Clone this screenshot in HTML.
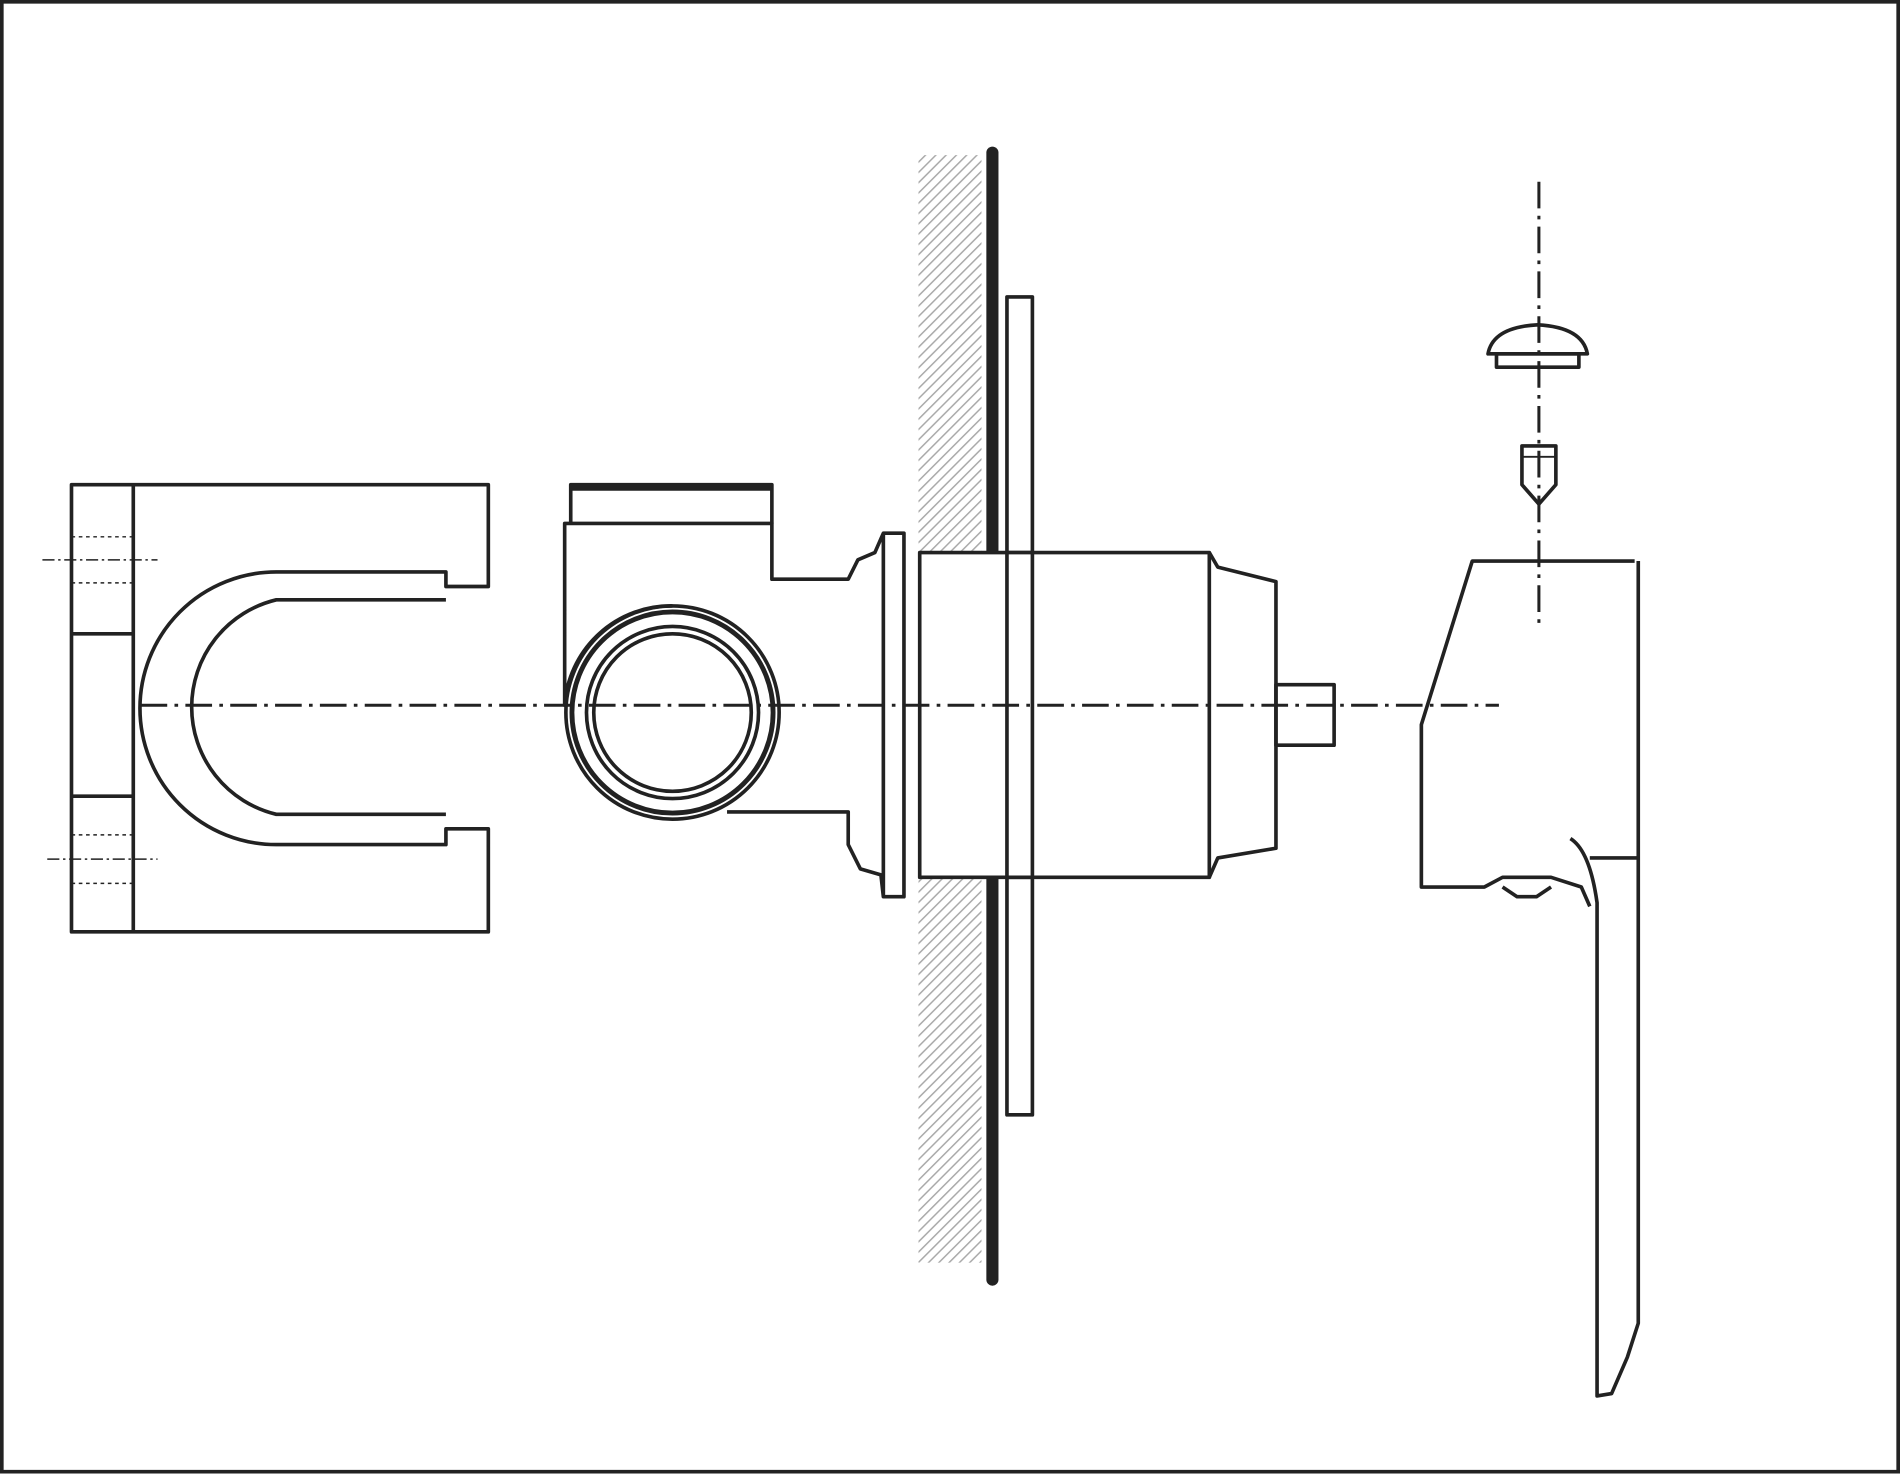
<!DOCTYPE html>
<html><head><meta charset="utf-8"><style>html,body{margin:0;padding:0;background:#fff}svg{display:block}</style></head>
<body>
<svg width="1900" height="1474" viewBox="0 0 1568 1216.4" preserveAspectRatio="none" xmlns="http://www.w3.org/2000/svg">
<defs>
<pattern id="h" width="6" height="6" patternUnits="userSpaceOnUse" patternTransform="rotate(45)">
<line x1="0" y1="0" x2="0" y2="6" stroke="#aaa" stroke-width="2.5"/>
</pattern>
</defs>
<rect x="1.5" y="1.5" width="1565" height="1213" fill="#fff" stroke="#222" stroke-width="3"/>
<g fill="none" stroke="#222" stroke-width="3" stroke-linejoin="round">
<!-- wall -->
<rect x="758" y="128" width="52" height="914" fill="url(#h)" stroke="none"/>
<line x1="819" y1="126" x2="819" y2="1056" stroke-width="10" stroke-linecap="round"/>
<rect x="831" y="245" width="21" height="675" fill="#fff"/>
<!-- left bracket -->
<path d="M59,400 H403 V484 H368 V472 H228 A112,112 0 0 0 228,697 H368 V684 H403 V769 H59 Z"/>
<path d="M368,495 H228 A91,91 0 0 0 228,672 H368"/>
<line x1="110" y1="400" x2="110" y2="769"/>
<line x1="59" y1="523" x2="110" y2="523"/>
<line x1="59" y1="657" x2="110" y2="657"/>
<g stroke-width="1.2" stroke-dasharray="3,3">
<line x1="59" y1="443" x2="110" y2="443"/><line x1="59" y1="481" x2="110" y2="481"/>
<line x1="59" y1="689" x2="110" y2="689"/><line x1="59" y1="729" x2="110" y2="729"/>
</g>
<g stroke-width="1.2" stroke-dasharray="10,3,2,3">
<line x1="35" y1="462" x2="130" y2="462"/><line x1="39" y1="709" x2="130" y2="709"/>
</g>
<!-- body -->
<path d="M471,432 V400 H637 V432"/>
<line x1="471" y1="403" x2="637" y2="403" stroke-width="4"/>
<path d="M555,500 A88,88 0 0 0 466,582 V432 H637 V478 H700 L708,462 L722,456 L729,440 H746 V740 H729 L727,722 L710,717 L700,697 V670 H600"/>
<circle cx="555" cy="588" r="88"/>
<circle cx="555" cy="588" r="83" stroke-width="4"/>
<circle cx="555" cy="588" r="71"/>
<circle cx="555" cy="588" r="65"/>
<line x1="729" y1="440" x2="729" y2="740"/>
<!-- cylinder -->
<rect x="759" y="456" width="239" height="268" fill="#fff"/>
<rect x="831" y="456" width="21" height="268" fill="#fff"/>
<path d="M998,456 L1005,468 L1053,480 V700 L1005,708 L998,724"/>
<rect x="1053" y="565" width="48" height="50"/>
<!-- handle -->
<path d="M1349,463 H1215 L1173,598 V732 H1225 L1240,724 H1280 L1305,732 L1312,748"/>
<path d="M1240,732 L1252,740 H1268 L1280,732"/>
<path d="M1296,692 Q1312,702 1318,745 V1152 L1330,1150 L1343,1120 L1352,1092 V463"/>
<line x1="1312" y1="708" x2="1352" y2="708"/>
<!-- cap & screw -->
<path d="M1228,292 Q1232,270 1269,268 Q1306,270 1310,292 Z"/>
<rect x="1235" y="292" width="68" height="11"/>
<path d="M1256,368 H1284 V400 L1270,416 L1256,400 Z"/>
<line x1="1256" y1="377" x2="1284" y2="377" stroke-width="1.5"/>
</g>
<g stroke="#222" stroke-width="2.5" stroke-dasharray="22,6,3,6" fill="none">
<line x1="116" y1="582" x2="1237" y2="582"/>
<line x1="1270" y1="150" x2="1270" y2="515"/>
</g>
</svg>
</body></html>
